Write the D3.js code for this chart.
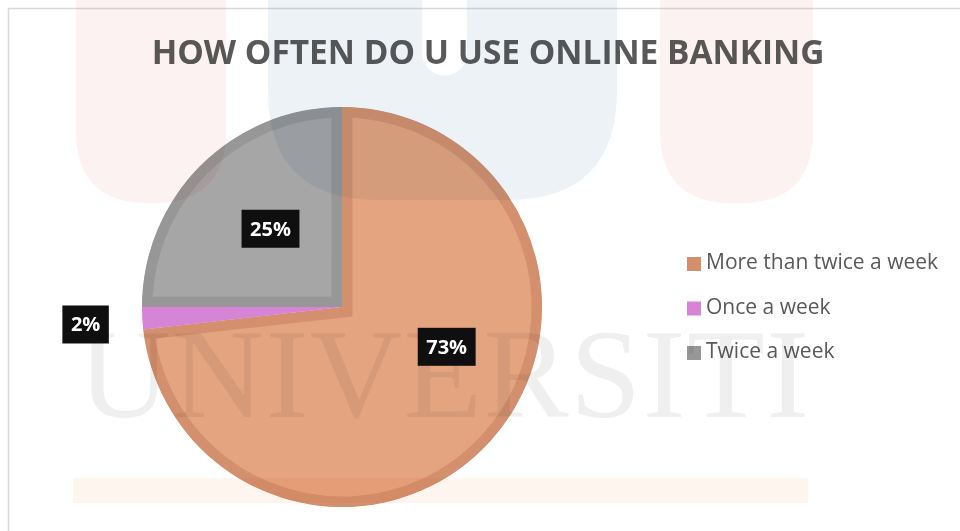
<!DOCTYPE html>
<html><head><meta charset="utf-8">
<script src="https://cdn.jsdelivr.net/npm/d3@7"></script>
<style>
html,body{margin:0;padding:0;background:#fff;}
svg{display:block;}
</style></head>
<body>
<svg id="chart" width="960" height="531"></svg>
<script>
// ---- data ----
const title = "HOW OFTEN DO U USE ONLINE BANKING";
const categories = ["More than twice a week", "Once a week", "Twice a week"];
const counts = [41, 1, 14];
const fillColors = ["#E5A480", "#E48BE4", "#A6A6A6"];
const edgeColors = ["#D4906E", "#D685D6", "#979797"];
const watermarkWord = "UNIVERSITI";

const W = 960, H = 531;
const svg = d3.select("#chart");
svg.append("rect").attr("width", W).attr("height", H).attr("fill", "#fff");

// chart frame
svg.append("rect").attr("x", 8.5).attr("y", 8.5).attr("width", W + 10).attr("height", H + 10)
  .attr("fill", "none").attr("stroke", "#d9d9d9").attr("stroke-width", 1.5);

// title
const titleText = svg.append("text").attr("x", 488).attr("y", 64)
  .attr("text-anchor", "middle").attr("font-family", "'Open Sans', sans-serif")
  .attr("font-weight", 700).attr("font-size", 32).attr("fill", "#595959").text(title);
{
  const w = titleText.node().getComputedTextLength();
  titleText.attr("font-size", 32 * 673 / w);
}

// pie
const cx = 342, cy = 307, R = 200;
const total = d3.sum(counts);
const pie = d3.pie().sort(null).value(d => d)(counts);
const arc = d3.arc().innerRadius(0).outerRadius(R);
const g = svg.append("g").attr("transform", `translate(${cx},${cy})`);
const defs = svg.append("defs");
pie.forEach((d, i) => {
  defs.append("clipPath").attr("id", "clip" + i).append("path").attr("d", arc(d));
});
g.selectAll("path.slice").data(pie).join("path").attr("class", "slice")
  .attr("d", arc).attr("fill", (d, i) => fillColors[i])
  .attr("stroke", (d, i) => edgeColors[i]).attr("stroke-width", 21)
  .attr("stroke-linejoin", "miter")
  .attr("clip-path", (d, i) => `url(#clip${i})`);

// data labels (best-fit like placement)
const labelRadius = [0.56, 1.285, 0.53];
const angleShift = [-0.366, -0.012, 0.045];
const fmt = d => Math.round(d / total * 100) + "%";
pie.forEach((d, i) => {
  const a = (d.startAngle + d.endAngle) / 2 + angleShift[i];
  const r = R * labelRadius[i];
  const x = cx + Math.sin(a) * r, y = cy - Math.cos(a) * r;
  const lg = svg.append("g").attr("transform", `translate(${x},${y})`);
  const box = lg.append("rect").attr("fill", "#0f0f0f");
  const t = lg.append("text").attr("text-anchor", "middle").attr("y", 7)
    .attr("font-family", "'Open Sans', sans-serif").attr("font-weight", 700)
    .attr("font-size", 20).attr("fill", "#fff").text(fmt(d.data));
  const tw = t.node().getComputedTextLength();
  const bw = tw + 17, bh = 38;
  box.attr("x", -bw / 2).attr("y", -bh / 2).attr("width", bw).attr("height", bh);
});

// legend
const legend = svg.append("g").attr("transform", "translate(687,257)");
const rowY = d3.scalePoint().domain(categories).range([0, 89]);
categories.forEach((c, i) => {
  const row = legend.append("g").attr("transform", `translate(0,${rowY(c)})`);
  row.append("rect").attr("width", 14).attr("height", 14).attr("fill", edgeColors[i]);
  row.append("text").attr("x", 19).attr("y", 12).attr("font-family", "'Open Sans', sans-serif")
    .attr("font-size", 21).attr("fill", "#595959").text(c);
});

// watermark overlay (multiply)
const wm = svg.append("g").style("mix-blend-mode", "multiply").attr("pointer-events", "none");
function uShape(x0, x1, yb, r) {
  return `M${x0},-5 L${x0},${yb - r} Q${x0},${yb} ${x0 + r},${yb} L${x1 - r},${yb} Q${x1},${yb} ${x1},${yb - r} L${x1},-5 Z`;
}
wm.append("path").attr("d", uShape(76, 226, 203, 72)).attr("fill", "#fdf2f2");
wm.append("path").attr("d", uShape(268, 617, 200, 110) + " " +
  `M422,-5 L422,53 A22,22 0 0 0 467,53 L467,-5 Z`).attr("fill", "#edf2f7").attr("fill-rule", "evenodd");
wm.append("path").attr("d", uShape(660, 813, 203, 72)).attr("fill", "#fdf2f2");
wm.append("text").attr("x", 78).attr("y", 417).attr("font-family", "'Liberation Serif', serif")
  .attr("font-size", 128).attr("textLength", 731).attr("lengthAdjust", "spacing")
  .attr("fill", "#efefef").text(watermarkWord);
wm.append("rect").attr("x", 73).attr("y", 478).attr("width", 735).attr("height", 25).attr("fill", "#fef5ee");
</script>
</body></html>
